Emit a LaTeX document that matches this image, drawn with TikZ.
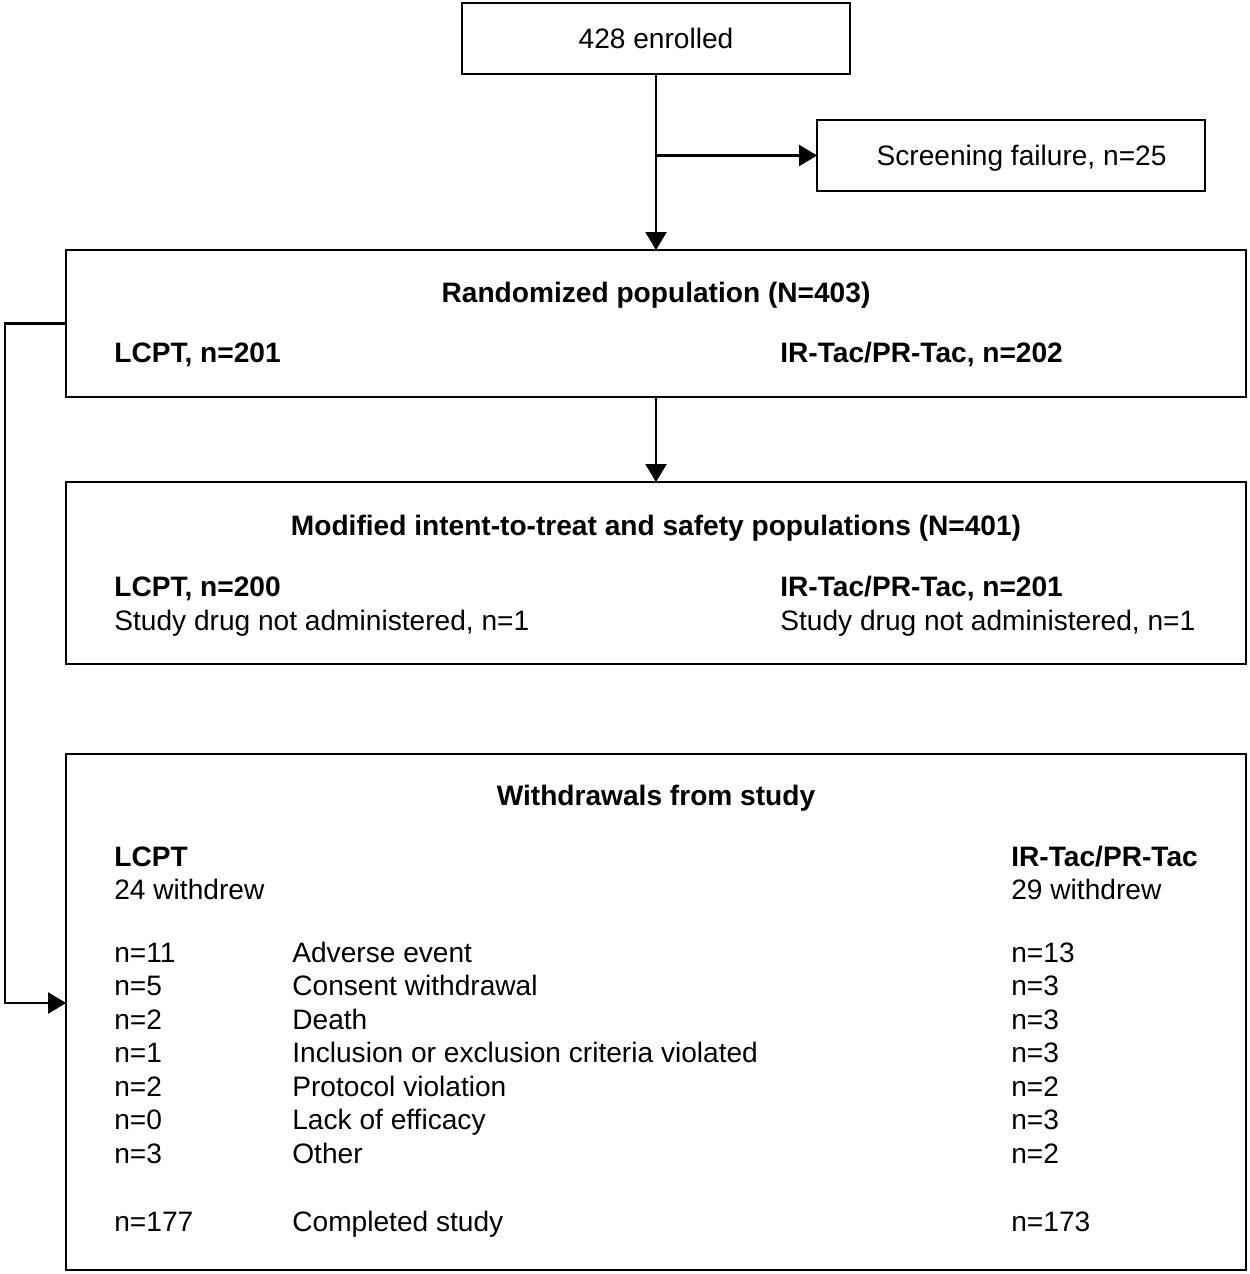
\documentclass[tikz,border=0pt]{standalone}
\usepackage{fontspec}
\setmainfont{Liberation Sans}
\usepackage{tikz}
\usetikzlibrary{arrows.meta}

\begin{document}
\begin{tikzpicture}[x=0.02cm, y=-0.02cm,
    font=\fontsize{16}{19}\selectfont,
    box/.style={draw, line width=1.3pt, inner sep=0pt, outer sep=0pt},
    lab/.style={anchor=base west, inner sep=0pt},
    head/.style={anchor=base, inner sep=0pt, font=\fontsize{16}{19}\selectfont\bfseries},
    arr/.style={line width=1.3pt, -{Triangle[length=0.36cm,width=0.42cm]}}]
                \useasboundingbox (0,0) rectangle (1250,1274);

                % Boxes
                \node[box, minimum width=7.76cm, minimum height=1.42cm] (enrolled) at (656,38.5) {428 enrolled};
                \node[box, minimum width=7.76cm, minimum height=1.42cm, text depth=0pt] (scr) at (1011,155.5) {\hspace{12pt}Screening failure, n=25};
                \node[box, minimum width=23.6cm, minimum height=2.94cm] (rand) at (656,323.5) {};
                \node[box, minimum width=23.6cm, minimum height=3.64cm] (mitt) at (656,573) {};
                \node[box, minimum width=23.6cm, minimum height=10.32cm] (wd) at (656,1012) {};

                % Randomized population
                \node[head] (randhead) at (656,302) {Randomized population (N=403)};
                \node[lab, font=\fontsize{16}{19}\selectfont\bfseries] (randl) at (114,362) {LCPT, n=201};
                \node[lab, font=\fontsize{16}{19}\selectfont\bfseries] (randr) at (780,362) {IR-Tac/PR-Tac, n=202};

                % Modified intent-to-treat
                \node[head] (mitthead) at (656,535) {Modified intent-to-treat and safety populations (N=401)};
                \node[lab, font=\fontsize{16}{19}\selectfont\bfseries] (mittl) at (114,596) {LCPT, n=200};
                \node[lab] (mittlna) at (114,630) {Study drug not administered, n=1};
                \node[lab, font=\fontsize{16}{19}\selectfont\bfseries] (mittr) at (780,596) {IR-Tac/PR-Tac, n=201};
                \node[lab] (mittrna) at (780,630) {Study drug not administered, n=1};

                % Withdrawals
                \node[head] (wdhead) at (656,805) {Withdrawals from study};
                \node[lab, font=\fontsize{16}{19}\selectfont\bfseries] (wdl) at (114,866) {LCPT};
                \node[lab] (wdln) at (114,899.5) {24 withdrew};
                \node[lab, font=\fontsize{16}{19}\selectfont\bfseries] (wdr) at (1011,866) {IR-Tac/PR-Tac};
                \node[lab] (wdrn) at (1011,899.5) {29 withdrew};

                \node[lab] (l1) at (114,962) {n=11};
                \node[lab] (c1) at (292,962) {Adverse event};
                \node[lab] (r1) at (1011,962) {n=13};
                \node[lab] (l2) at (114,995.5) {n=5};
                \node[lab] (c2) at (292,995.5) {Consent withdrawal};
                \node[lab] (r2) at (1011,995.5) {n=3};
                \node[lab] (l3) at (114,1029) {n=2};
                \node[lab] (c3) at (292,1029) {Death};
                \node[lab] (r3) at (1011,1029) {n=3};
                \node[lab] (l4) at (114,1062.5) {n=1};
                \node[lab] (c4) at (292,1062.5) {Inclusion or exclusion criteria violated};
                \node[lab] (r4) at (1011,1062.5) {n=3};
                \node[lab] (l5) at (114,1096) {n=2};
                \node[lab] (c5) at (292,1096) {Protocol violation};
                \node[lab] (r5) at (1011,1096) {n=2};
                \node[lab] (l6) at (114,1129.5) {n=0};
                \node[lab] (c6) at (292,1129.5) {Lack of efficacy};
                \node[lab] (r6) at (1011,1129.5) {n=3};
                \node[lab] (l7) at (114,1163) {n=3};
                \node[lab] (c7) at (292,1163) {Other};
                \node[lab] (r7) at (1011,1163) {n=2};
                \node[lab] (l8) at (114,1231) {n=177};
                \node[lab] (c8) at (292,1231) {Completed study};
                \node[lab] (r8) at (1011,1231) {n=173};

                % Connectors
                \draw[arr] (enrolled.south) -- (rand.north);
                \draw[arr] (enrolled.south |- scr.west) -- (scr.west);
                \draw[arr] (rand.south) -- (mitt.north);
                \coordinate (bend) at (5,323.5);
                \coordinate (wdin) at (wd.west |- 0,1003);
                \draw[arr] (rand.west) -- (bend) |- (wdin);
            \end{tikzpicture}
\end{document}
